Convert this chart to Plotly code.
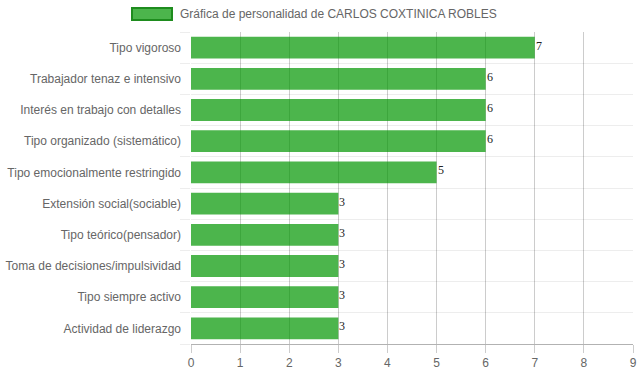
import plotly.graph_objects as go

categories = [
    "Tipo vigoroso",
    "Trabajador tenaz e intensivo",
    "Interés en trabajo con detalles",
    "Tipo organizado (sistemático)",
    "Tipo emocionalmente restringido",
    "Extensión social(sociable)",
    "Tipo teórico(pensador)",
    "Toma de decisiones/impulsividad",
    "Tipo siempre activo",
    "Actividad de liderazgo",
]
values = [7, 6, 6, 6, 5, 3, 3, 3, 3, 3]
series_name = "Gráfica de personalidad de CARLOS COXTINICA ROBLES"
x_ticks = list(range(0, 10))

positions = list(range(len(categories)))
bar_fill = "rgba(0,150,0,0.7)"

fig = go.Figure()
fig.add_trace(go.Bar(
    x=values,
    y=positions,
    orientation="h",
    name=series_name,
    width=0.7,
    marker=dict(color=bar_fill, line=dict(width=0)),
    showlegend=False,
    hoverinfo="x+y",
))

for p, v in zip(positions, values):
    fig.add_annotation(x=v, y=p, text=str(v), showarrow=False,
                       xanchor="left", yanchor="middle", xshift=-1, yshift=2,
                       font=dict(family="Liberation Serif, Times New Roman, serif",
                                 size=12, color="#222"))

fig.update_layout(
    width=639, height=372,
    margin=dict(l=191, r=6, t=32, b=28, autoexpand=False),
    plot_bgcolor="white", paper_bgcolor="white",
    font=dict(family="Liberation Sans, Arial, sans-serif", size=12, color="#666"),
    xaxis=dict(
        range=[0, 9], tickvals=x_ticks, showgrid=True,
        gridcolor="rgba(0,0,0,0.2)", gridwidth=1,
        ticks="outside", ticklen=8, tickcolor="rgba(0,0,0,0.2)",
        showline=True, linecolor="rgba(0,0,0,0.3)", linewidth=1,
        zeroline=False, automargin=False,
        tickfont=dict(size=12, color="#666"),
    ),
    yaxis=dict(
        range=[len(categories) - 0.5, -0.5],
        tickvals=positions, ticktext=categories,
        showgrid=False, zeroline=False, ticks="",
        ticklabelstandoff=9, automargin=False,
        minor=dict(tick0=0.5, dtick=1, showgrid=True,
                   gridcolor="rgba(0,0,0,0.07)", gridwidth=1,
                   ticks="outside", ticklen=10, tickcolor="rgba(0,0,0,0.07)"),
        tickfont=dict(size=12, color="#666"),
    ),
    bargap=0.3,
)

# Legend drawn manually (Chart.js-style wide box)
fig.add_shape(type="rect", xref="paper", yref="paper",
              x0=(132 - 191) / 442, x1=(172 - 191) / 442,
              y0=1 + (32 - 20) / 312, y1=1 + (32 - 8) / 312,
              fillcolor=bar_fill, line=dict(color="#1E8C1E", width=2))
fig.add_annotation(xref="paper", yref="paper",
                   x=(178 - 191) / 442, y=1 + (32 - 14) / 312,
                   xanchor="left", yanchor="middle", showarrow=False,
                   text=series_name, font=dict(size=12, color="#666"))

fig.write_html("out.html")
